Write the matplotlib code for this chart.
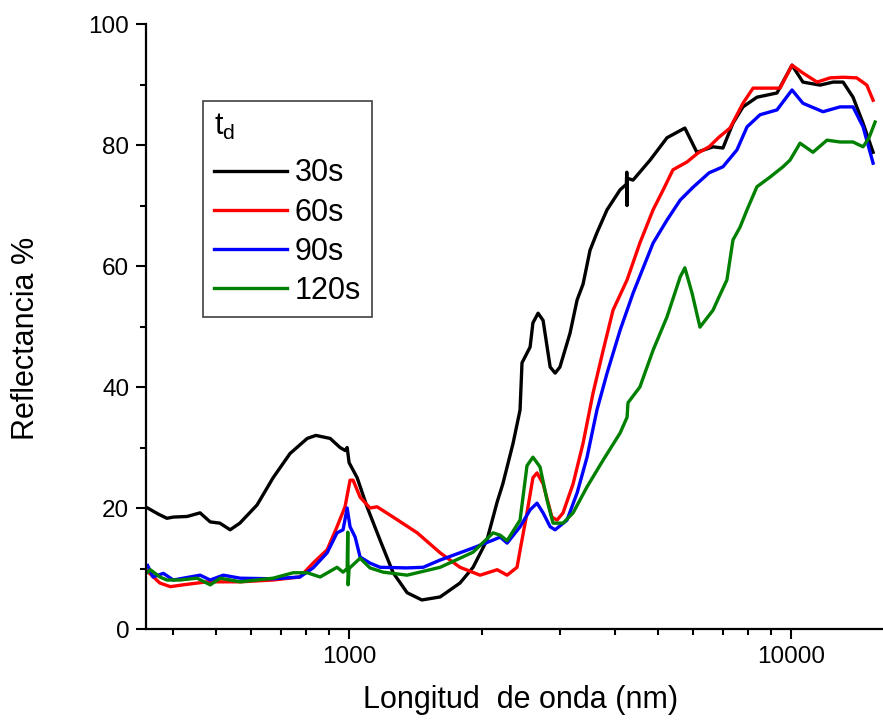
import numpy as np
import matplotlib
matplotlib.use('Agg')
from matplotlib import pyplot as plt
from matplotlib.ticker import LogLocator, MultipleLocator, NullFormatter

plt.rcParams['font.family'] = ['Liberation Sans', 'DejaVu Sans']
plt.rcParams['mathtext.default'] = 'regular'

# 30s
wl_30 = [350, 370, 387, 400, 430, 460, 485, 510, 538, 566, 619, 673, 735, 804, 841,
         906, 954, 980, 990, 1000, 1043, 1098, 1175, 1258, 1353, 1461, 1607, 1782,
         1908, 2051, 2163, 2228, 2350, 2437, 2462, 2568, 2606, 2677, 2748, 2851, 2926,
         3000, 3162, 3281, 3384, 3509, 3638, 3835, 4105, 4240, 4250, 4255, 4260, 4391,
         4798, 5241, 5752, 6123, 6661, 7014, 7390, 7786, 8373, 9296, 10052, 10641,
         11634, 12455, 13116, 13815, 14558, 15337]
r_30 = [20.0, 19.0, 18.3, 18.5, 18.6, 19.2, 17.7, 17.5, 16.4, 17.5, 20.5, 25.0, 29.0,
        31.5, 32.0, 31.5, 30.0, 29.5, 30.0, 27.5, 25.0, 20.2, 14.7, 9.3, 6.0, 4.8, 5.3,
        7.6, 10.2, 14.7, 21.0, 24.0, 30.7, 36.2, 44.0, 46.6, 50.6, 52.2, 51.0, 43.3, 42.3,
        43.3, 48.9, 54.4, 57.0, 62.6, 65.5, 69.3, 72.6, 73.5, 75.5, 70.0, 74.5, 74.2,
        77.5, 81.2, 82.8, 78.8, 79.7, 79.5, 83.6, 86.3, 87.9, 88.6, 93.2, 90.4,
        89.9, 90.4, 90.4, 87.9, 83.6, 78.8]

# 60s
wl_60 = [350, 373, 394, 421, 477, 567, 673, 774, 829, 892, 939, 979, 1005, 1021, 1059,
         1115, 1157, 1258, 1426, 1607, 1782, 1979, 2163, 2278, 2399, 2437, 2527, 2606,
         2662, 2748, 2877, 2955, 3049, 3213, 3384, 3565, 3756, 3956, 4256, 4550, 4875,
         5131, 5405, 5818, 6163, 6525, 6873, 7277, 7786, 8205, 8826, 9446, 10052, 10641,
         11455, 12266, 13116, 14080, 14845, 15337]
r_60 = [9.5, 7.6, 7.0, 7.3, 7.8, 7.8, 8.1, 8.6, 10.9, 13.1, 16.9, 20.2, 24.6, 24.6, 21.8,
        20.0, 20.2, 18.5, 15.9, 12.6, 10.2, 8.9, 9.8, 8.9, 10.2, 13.0, 19.2, 25.0,
        25.8, 24.0, 18.5, 18.0, 19.2, 24.0, 30.7, 39.0, 46.0, 52.7, 57.7, 63.8, 69.3,
        72.5, 75.9, 77.2, 78.7, 79.7, 81.3, 82.8, 86.9, 89.4, 89.4, 89.4, 93.2, 91.9,
        90.4, 91.1, 91.2, 91.1, 89.9, 87.4]

# 90s
wl_90 = [350, 360, 380, 400, 460, 485, 519, 567, 673, 774, 829, 892, 939, 969, 990,
         1005, 1032, 1059, 1115, 1175, 1353, 1471, 1607, 1782, 1908, 2118, 2198, 2278,
         2437, 2568, 2662, 2748, 2851, 2926, 3112, 3281, 3455, 3638, 3835, 4105, 4391,
         4875, 5241, 5614, 5999, 6525, 7014, 7546, 7953, 8510, 9296, 10052, 10641,
         11814, 12910, 13815, 14558, 15337]
r_90 = [10.5, 8.6, 9.2, 8.1, 8.9, 8.1, 8.9, 8.4, 8.3, 8.6, 10.1, 12.6, 15.9, 16.4, 20.0,
        16.9, 15.2, 11.9, 10.9, 10.2, 10.1, 10.2, 11.4, 12.6, 13.4, 14.7, 15.2, 14.2,
        16.9, 19.7, 20.8, 19.2, 16.9, 16.4, 18.0, 22.5, 28.4, 36.2, 42.3, 49.4, 55.5,
        63.8, 67.6, 70.9, 73.0, 75.4, 76.4, 79.2, 83.0, 85.0, 85.8, 89.1, 86.9,
        85.5, 86.3, 86.3, 83.0, 77.0]

# 120s
wl_120 = [350, 355, 373, 387, 415, 453, 485, 511, 567, 673, 747, 804, 860, 939, 969,
          990, 993, 995, 1000, 1059, 1115, 1194, 1353, 1607, 1782, 1908, 2118, 2198,
          2278, 2437, 2527, 2606, 2704, 2805, 2894, 3049, 3213, 3455, 3756, 4105, 4256,
          4277, 4550, 4875, 5241, 5614, 5752, 5972, 6223, 6661, 6873, 7161, 7390, 7665,
          7953, 8373, 8966, 9590, 9948, 10482, 11212, 12061, 12910, 13815, 14558, 15016,
          15500]
r_120 = [9.4, 9.8, 8.6, 8.1, 8.1, 8.4, 7.3, 8.4, 7.8, 8.4, 9.3, 9.3, 8.6, 10.2, 9.4,
         10.0, 16.0, 7.3, 10.0, 11.7, 10.1, 9.4, 8.9, 10.2, 11.7, 12.7, 15.9, 15.5,
         14.6, 18.0, 27.0, 28.4, 26.8, 21.3, 17.5, 17.5, 19.2, 23.5, 27.9, 32.4, 35.0,
         37.4, 40.0, 46.1, 51.6, 58.2, 59.7, 55.5, 49.9, 52.7, 54.9, 57.7, 64.3, 66.4,
         69.3, 73.1, 74.7, 76.4, 77.5, 80.3, 78.8, 80.8, 80.5, 80.5, 79.7, 81.2,
         83.8]

labels = ['30s', '60s', '90s', '120s']
colors = ['black', '#ff0000', '#0000ff', '#008000']

fig = plt.figure(figsize=(8.83, 7.23), dpi=100)
ax = fig.add_axes([0.1653, 0.130, 0.8347, 0.8368])

series = [(wl_30, r_30), (wl_60, r_60), (wl_90, r_90), (wl_120, r_120)]
for (x, y), lab, c in zip(series, labels, colors):
    ax.plot(x, y, color=c, lw=2.4, label=lab)

ax.set_xscale('log')
ax.set_xlim(347, 16150)
ax.set_ylim(0, 100)
ax.xaxis.set_minor_locator(LogLocator(base=10, subs=np.arange(2, 10), numticks=20))
ax.xaxis.set_minor_formatter(NullFormatter())
ax.set_xticks([1000, 10000])
ax.set_xticklabels(['1000', '10000'])
ax.yaxis.set_major_locator(MultipleLocator(20))
ax.yaxis.set_minor_locator(MultipleLocator(10))

for s in ['top', 'right']:
    ax.spines[s].set_visible(False)
for s in ['left', 'bottom']:
    ax.spines[s].set_linewidth(1.6)
ax.tick_params(which='major', direction='out', length=7, width=1.5, labelsize=17.5, pad=5)
ax.tick_params(which='minor', direction='out', length=4, width=1.5)

fig.text(26 / 883, 1 - 338 / 723, 'Reflectancia %', rotation=90, fontsize=22,
         ha='center', va='center')
fig.text(521 / 883, 1 - 700 / 723, 'Longitud  de onda (nm)', fontsize=22,
         ha='center', va='center')

leg = ax.legend(loc='upper left', bbox_to_anchor=(0.0773, 0.8727), borderaxespad=0,
                fontsize=22, title='t$_d$', title_fontsize=22, alignment='left',
                handlelength=2.4, handletextpad=0.25, labelspacing=0.3,
                borderpad=0.35, fancybox=False, framealpha=1)
# a bit more room under the title
leg._legend_box.sep = 12
leg.get_frame().set_edgecolor('#404040')
leg.get_frame().set_linewidth(1.2)

plt.savefig('out.png', dpi=100)
